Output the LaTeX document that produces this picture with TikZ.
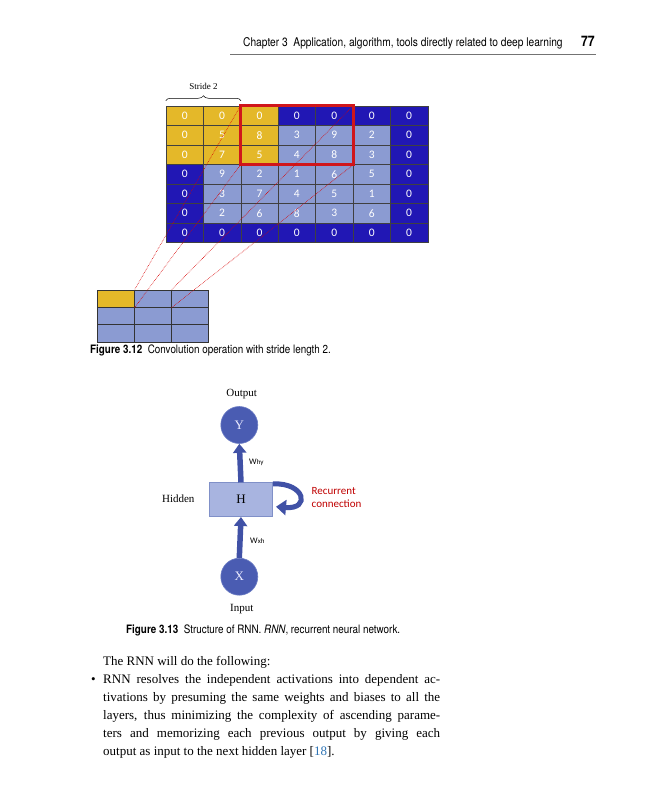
\documentclass[tikz,border=0pt]{standalone}
\usepackage{fontspec}
\setmainfont{Liberation Serif}
\newfontfamily\calfont{Carlito}
\newfontfamily\capfont[FakeStretch=0.85]{TeX Gyre Heros}
\usetikzlibrary{arrows.meta,decorations.pathreplacing,calc}
\definecolor{gold}{HTML}{E4B829}
\definecolor{dblue}{HTML}{2117B4}
\definecolor{lblue}{HTML}{8B9BD2}
\definecolor{boxred}{HTML}{D0161B}
\definecolor{arrblue}{HTML}{4051A6}
\definecolor{nfill}{HTML}{4A5CB2}
\definecolor{nedge}{HTML}{6B7CC4}
\definecolor{hfill}{HTML}{A8B4E0}
\definecolor{hedge}{HTML}{8090C8}
\definecolor{rtext}{HTML}{C00000}
\definecolor{cite}{HTML}{2E74B5}
\tikzset{
  cell/.style={draw=black!75, line width=0.5pt, minimum width=37.4pt, minimum height=19.5pt,
    inner sep=0pt, text=white, font=\calfont\fontsize{11.5}{13}\selectfont},
  ycell/.style={cell, fill=gold},
  bcell/.style={cell, fill=dblue},
  lcell/.style={cell, fill=lblue},
  ocell/.style={draw=black!80, line width=0.6pt, minimum width=37pt, minimum height=17.3pt, inner sep=0pt, fill=lblue},
  redbox/.style={draw=boxred, line width=2.6pt},
  dotline/.style={draw=red!85!black, densely dotted, line width=0.6pt},
  bracestyle/.style={decorate, decoration={brace, amplitude=5pt}, line width=0.5pt},
  serlbl/.style={font=\fontsize{11}{13}\selectfont, inner sep=0pt},
  neuron/.style={circle, fill=nfill, draw=nedge, line width=0.6pt, minimum size=37pt, inner sep=0pt,
    text=white!92!blue, font=\fontsize{13}{15}\selectfont},
  hbox/.style={draw=hedge, fill=hfill, line width=0.6pt, minimum width=63.4pt, minimum height=34pt,
    inner sep=0pt, font=\fontsize{13}{15}\selectfont},
  flow/.style={draw=arrblue, line width=5.5pt, -{Triangle[length=9pt,width=13pt]}},
  recur/.style={draw=arrblue, line width=5pt, -{Triangle[length=10pt,width=15pt]}},
  wlbl/.style={font=\calfont\fontsize{8.5}{10}\selectfont, inner sep=0pt, anchor=west},
  captxt/.style={font=\capfont\fontsize{11.6}{13}\selectfont, inner sep=0pt, anchor=west},
  bodyline/.style={font=\fontsize{13}{18}\selectfont, inner sep=0pt, anchor=base west},
}
\begin{document}
\begin{tikzpicture}[x=1pt,y=-1pt]
\useasboundingbox (0,0) rectangle (648,800);
\fill[white] (0,0) rectangle (648,800);

% header
\node[font=\capfont\fontsize{12}{14}\selectfont, inner sep=0pt, anchor=base west] (hdr) at (243,47)
  {Chapter 3\ \ Application, algorithm, tools directly related to deep learning};
\node[font=\capfont\bfseries\fontsize{14.5}{16}\selectfont, inner sep=0pt, anchor=base east] (pg) at (595,47) {77};
\coordinate (hl) at (230,54);
\coordinate (hr) at (596,54);
\draw[black!55, line width=0.6pt] (hl) -- (hr);

% input grid
\foreach \row [count=\r from 0] in {{0,0,0,0,0,0,0},{0,5,8,3,9,2,0},{0,7,5,4,8,3,0},{0,9,2,1,6,5,0},{0,3,7,4,5,1,0},{0,2,6,8,3,6,0},{0,0,0,0,0,0,0}}{
  \foreach \v [count=\c from 0] in \row {
    \pgfmathtruncatemacro\isY{and(\r<3,\c<3)}
    \pgfmathtruncatemacro\isB{or(or(\r==0,\r==6),or(\c==0,\c==6))}
    \ifnum\isY=1 \def\cc{ycell}\else\ifnum\isB=1 \def\cc{bcell}\else\def\cc{lcell}\fi\fi
    \node[\cc] (c-\r-\c) at ({166+37.4*(\c+0.5)},{106+19.5*(\r+0.5)}) {\v};
  }
}
\draw[redbox] (c-0-2.north west) rectangle (c-2-4.south east);

% brace
\coordinate (bl) at ($(c-0-0.north west)+(0,-5)$);
\coordinate (br) at ($(c-0-1.north east)+(0,-5)$);
\draw[bracestyle] (bl) -- (br);
\node[font=\fontsize{9}{11}\selectfont, inner sep=0pt] (stride) at ($(bl)!0.5!(br)+(0,-14)$) {Stride 2};

% output grid
\foreach \r in {0,1,2}{
  \foreach \c in {0,1,2}{
    \node[ocell] (o-\r-\c) at ({97.3+37*(\c+0.5)},{290+17.3*(\r+0.5)}) {};
  }
}
\node[ocell, fill=gold] at (o-0-0) {};

% connecting lines
\draw[dotline] (c-0-2.north west) -- (o-0-0.north east);
\draw[dotline] (c-2-2.south west) -- (o-0-0.south east);
\draw[dotline] (c-0-4.north east) -- (o-0-1.north east);
\draw[dotline] (c-2-4.south east) -- (o-0-1.south east);

\node[captxt] (cap1) at (90,350) {\textbf{Figure 3.12}\ \ Convolution operation with stride length 2.};

% RNN
\node[neuron] (Y) at (239.3,425) {Y};
\node[neuron] (X) at (239.3,576.7) {X};
\node[hbox] (H) at (241,499.7) {H};
\node[serlbl] (outl) at (241.7,394) {Output};
\node[serlbl] (inl) at (241.7,609.3) {Input};
\node[serlbl] (hidl) at (178.3,498.3) {Hidden};
\draw[flow] (H.north) -- (Y.south);
\draw[flow] (X.north) -- (H.south);
\node[wlbl] (why) at (249,462) {W{\fontsize{7}{8}\selectfont hy}};
\node[wlbl] (wxh) at (250,541) {W{\fontsize{7}{8}\selectfont xh}};
\draw[recur] ($(H.north east)+(0,1.5)$) .. controls ($(H.north east)+(32,0)$) and ($(H.east)+(38,10)$) .. ($(H.east)+(3,7)$);
\node[font=\calfont\fontsize{11}{13}\selectfont, text=rtext, align=left, inner sep=0pt, anchor=west] (rc) at (311.5,497.5) {Recurrent\\connection};

\node[captxt] (cap2) at (126,630) {\textbf{Figure 3.13}\ \ Structure of RNN. \textit{RNN}, recurrent neural network.};

% body text
\node[bodyline] (l1) at (103,665) {The RNN will do the following:};
\node[font=\fontsize{13}{18}\selectfont, inner sep=0pt, anchor=base west] (bul) at (91,683) {•};
\node[bodyline] (l2) at (103,683) {\makebox[337pt][s]{RNN resolves the independent activations into dependent ac-}};
\node[bodyline] (l3) at (103,701) {\makebox[337pt][s]{tivations by presuming the same weights and biases to all the}};
\node[bodyline] (l4) at (103,719) {\makebox[337pt][s]{layers, thus minimizing the complexity of ascending parame-}};
\node[bodyline] (l5) at (103,737) {\makebox[337pt][s]{ters and memorizing each previous output by giving each}};
\node[bodyline] (l6) at (103,755) {output as input to the next hidden layer [{\color{cite}18}].};
\end{tikzpicture}
\end{document}
